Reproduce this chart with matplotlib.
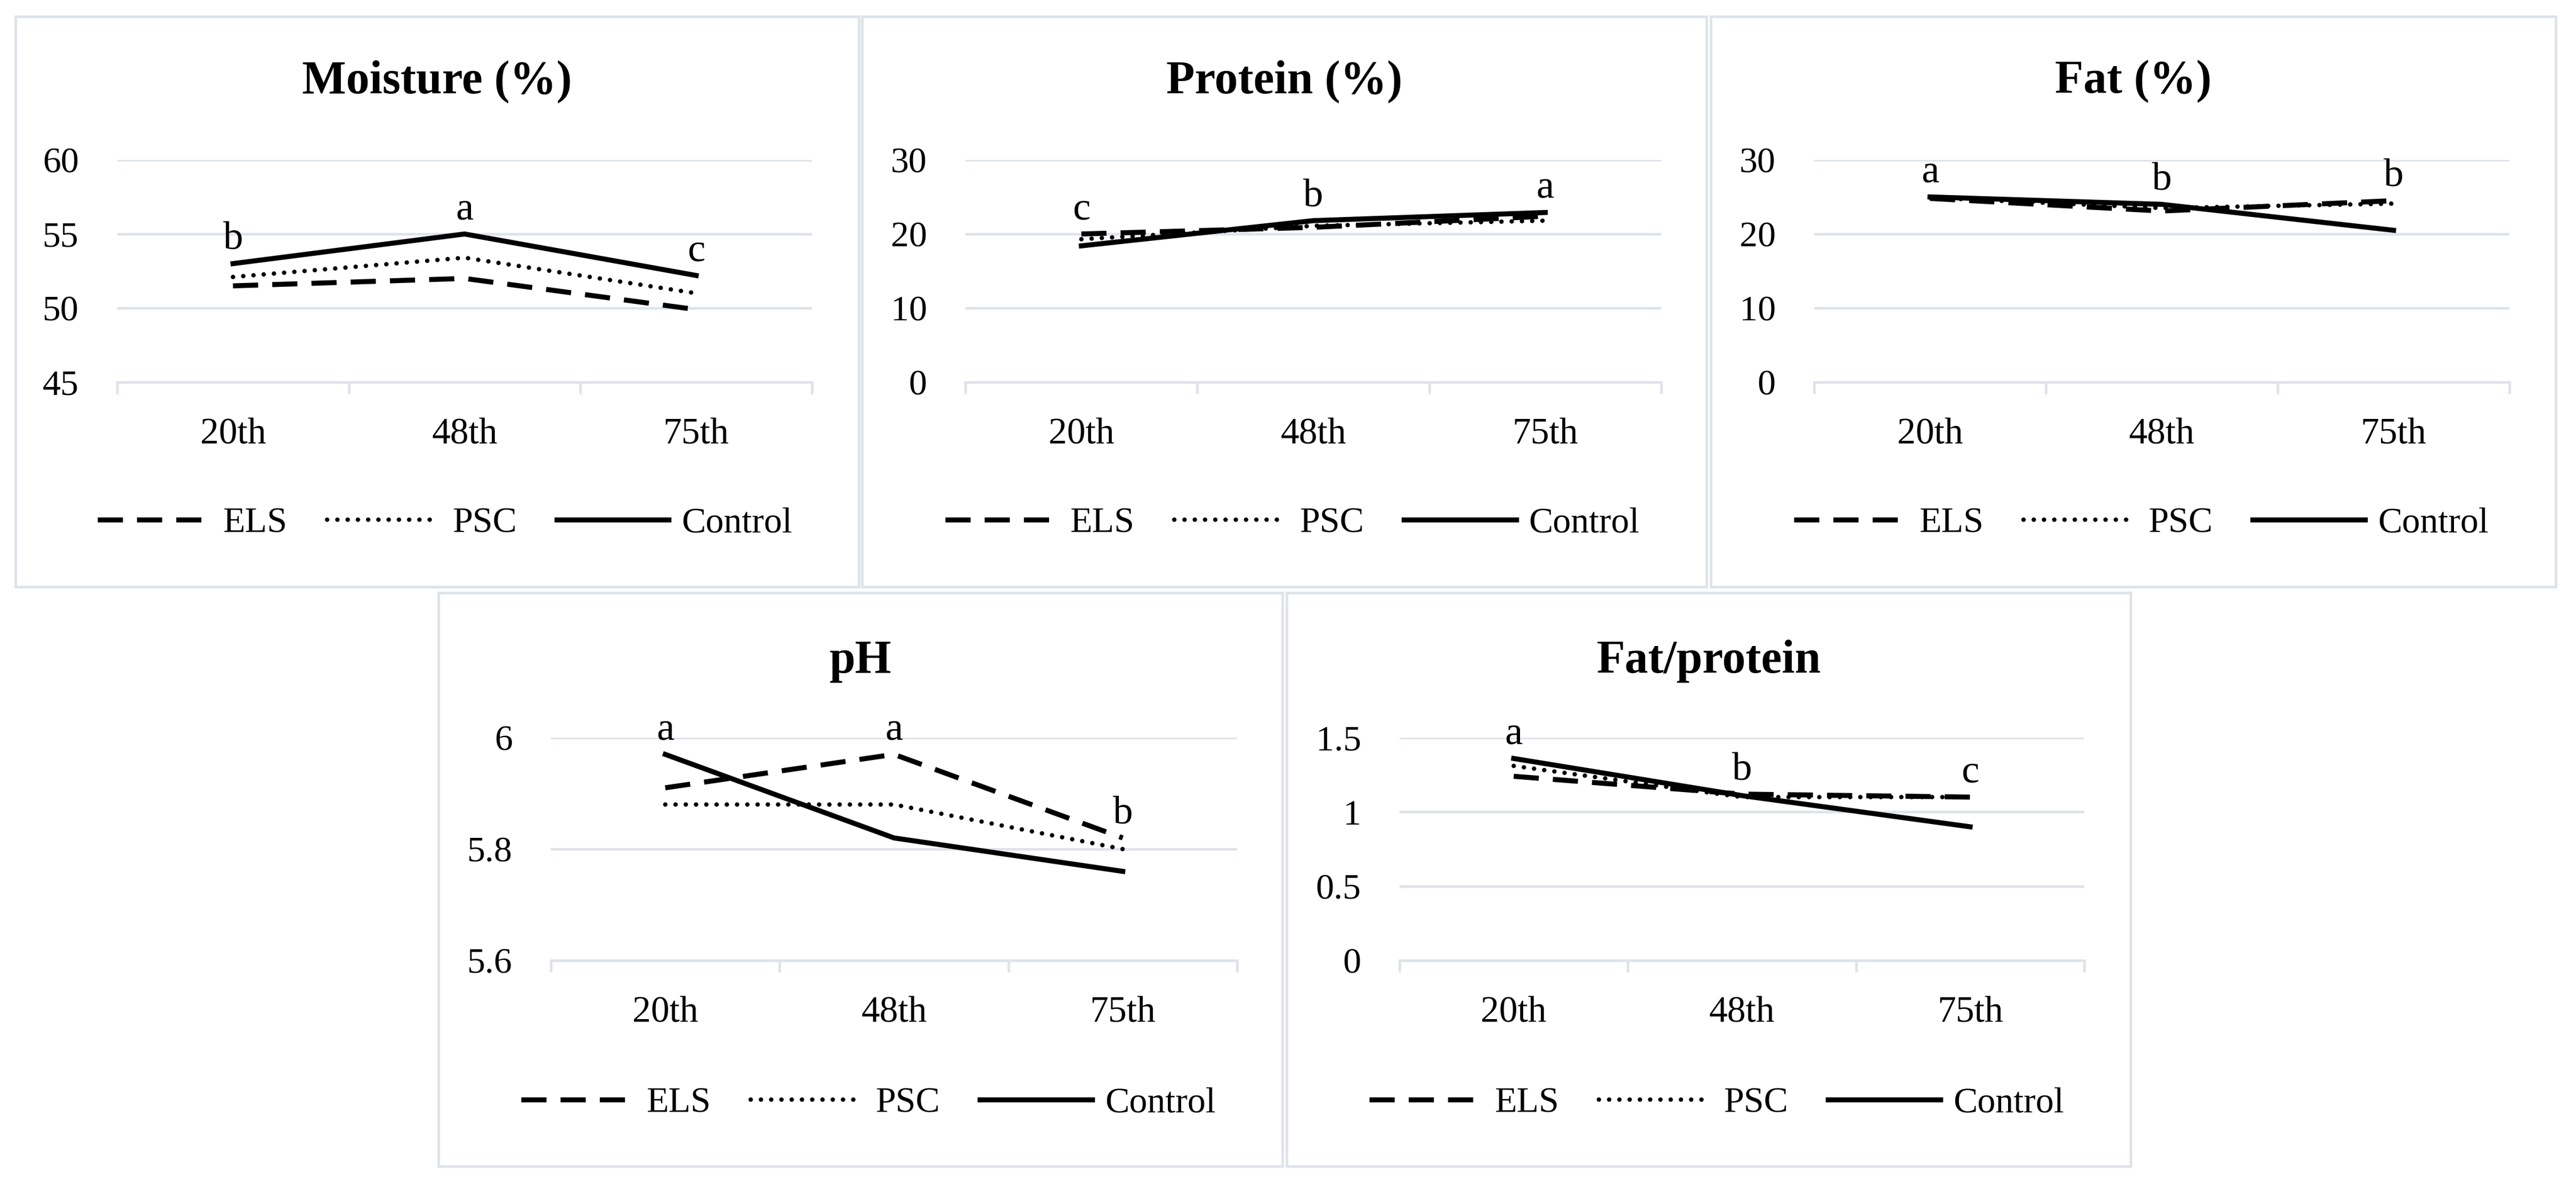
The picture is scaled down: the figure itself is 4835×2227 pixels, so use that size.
import matplotlib.pyplot as plt
from matplotlib.patches import Rectangle
from matplotlib.ticker import FuncFormatter

plt.rcParams['font.family'] = ['Liberation Serif', 'DejaVu Serif']

W, H = 4835, 2227
GRID = '#dfe3ea'

days = ['20th', '48th', '75th']
groups = ['ELS', 'PSC', 'Control']

moisture_els = [51.5, 52.0, 49.9]
moisture_psc = [52.1, 53.4, 51.0]
moisture_control = [53.0, 55.0, 52.2]
moisture_letters = ['b', 'a', 'c']

protein_els = [20.0, 20.9, 22.4]
protein_psc = [19.3, 21.1, 21.8]
protein_control = [18.4, 21.8, 22.9]
protein_letters = ['c', 'b', 'a']

fat_els = [24.8, 23.1, 24.5]
fat_psc = [24.9, 23.5, 24.1]
fat_control = [25.0, 24.0, 20.5]
fat_letters = ['a', 'b', 'b']

ph_els = [5.91, 5.97, 5.82]
ph_psc = [5.88, 5.88, 5.80]
ph_control = [5.97, 5.82, 5.76]
ph_letters = ['a', 'a', 'b']

fp_els = [1.24, 1.12, 1.10]
fp_psc = [1.31, 1.10, 1.10]
fp_control = [1.36, 1.11, 0.90]
fp_letters = ['a', 'b', 'c']

styles = {
    'ELS': dict(linestyle=(0, (5, 2.8)), lw=6.8),
    'PSC': dict(linestyle=(0, (0.01, 2.3)), lw=6, dash_capstyle='round'),
    'Control': dict(linestyle='-', lw=6.8),
}


def fx(x):
    return x / W


def fy(y):
    return 1 - y / H


def draw_panel(fig, title, series, letters, ylim, yticks, box, plot, title_y, legend_y):
    bx0, by0, bx1, by1 = box
    fig.patches.append(Rectangle((fx(bx0), fy(by1)), fx(bx1 - bx0), (by1 - by0) / H,
                                 transform=fig.transFigure, fill=False,
                                 edgecolor=GRID, lw=3.6))
    px0, py0, px1, py1 = plot
    ax = fig.add_axes([fx(px0), fy(py1), fx(px1 - px0), (py1 - py0) / H])

    handles = []
    for name, vals in zip(groups, series):
        line, = ax.plot(range(len(days)), vals, color='black', label=name, **styles[name])
        handles.append(line)

    # significance letters sit above the highest line at each day
    for i, letter in enumerate(letters):
        top = max(s[i] for s in series)
        ax.annotate(letter, (i, top), xytext=(0, 20), textcoords='offset points',
                    ha='center', va='baseline', fontsize=54)

    ax.set_xlim(-0.5, 2.5)
    ax.set_ylim(*ylim)
    ax.set_yticks(yticks)
    ax.yaxis.set_major_formatter(FuncFormatter(lambda v, _: f'{v:g}'))
    ax.set_xticks(range(len(days)))
    ax.set_xticklabels(days)
    ax.set_xticks([-0.5, 0.5, 1.5, 2.5], minor=True)
    ax.grid(axis='y', color=GRID, lw=3.5)
    ax.set_axisbelow(True)
    for s in ['left', 'right', 'top']:
        ax.spines[s].set_visible(False)
    ax.spines['bottom'].set_color(GRID)
    ax.spines['bottom'].set_linewidth(3.5)
    ax.tick_params(axis='x', which='major', length=0, pad=48, labelsize=50)
    ax.tick_params(axis='x', which='minor', length=16, width=3.5, color=GRID, direction='out')
    ax.tick_params(axis='y', length=0, pad=52, labelsize=49)

    cx = (bx0 + bx1) / 2
    fig.text(fx(cx), fy(title_y), title, ha='center', va='baseline',
             fontsize=63, fontweight='bold')
    ax.legend(handles, groups, loc='center', bbox_to_anchor=(fx(cx + 15), fy(legend_y)),
              bbox_transform=fig.transFigure, ncol=3, frameon=False, fontsize=49,
              handlelength=3.1, handletextpad=0.35, columnspacing=1.1)
    return ax


def main():
    fig = plt.figure(figsize=(W / 100, H / 100), dpi=100, facecolor='white')

    top_y = (30.5, 1100.5)
    bot_y = (1112, 2188)

    draw_panel(fig, 'Moisture (%)', [moisture_els, moisture_psc, moisture_control],
               moisture_letters, (45, 60), [45, 50, 55, 60],
               (28.5, top_y[0], 1612, top_y[1]), (220, 300, 1524, 717), 174, 982)
    draw_panel(fig, 'Protein (%)', [protein_els, protein_psc, protein_control],
               protein_letters, (0, 30), [0, 10, 20, 30],
               (1618, top_y[0], 3203, top_y[1]), (1812, 300, 3118, 717), 174, 982)
    draw_panel(fig, 'Fat (%)', [fat_els, fat_psc, fat_control],
               fat_letters, (0, 30), [0, 10, 20, 30],
               (3211, top_y[0], 4797, top_y[1]), (3405, 300, 4710, 717), 174, 982)
    draw_panel(fig, 'pH', [ph_els, ph_psc, ph_control],
               ph_letters, (5.6, 6.0), [5.6, 5.8, 6.0],
               (823, bot_y[0], 2407, bot_y[1]), (1034, 1384, 2322, 1802), 1262, 2070)
    draw_panel(fig, 'Fat/protein', [fp_els, fp_psc, fp_control],
               fp_letters, (0, 1.5), [0, 0.5, 1.0, 1.5],
               (2415, bot_y[0], 3999, bot_y[1]), (2627, 1384, 3912, 1802), 1262, 2070)

    fig.savefig('out.png', dpi=100, facecolor='white')


if __name__ == "__main__":
    main()
